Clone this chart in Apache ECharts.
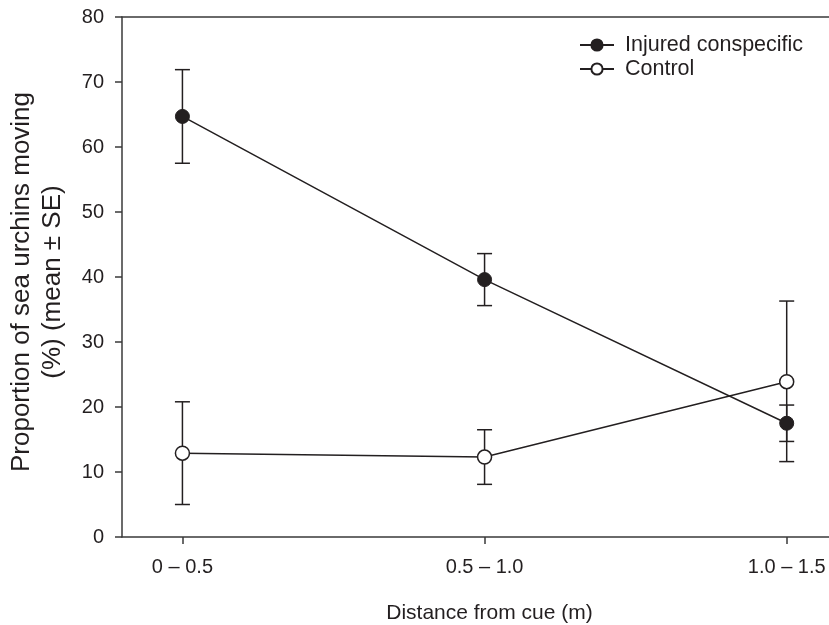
<!DOCTYPE html>
<html>
<head>
<meta charset="utf-8">
<script src="https://cdn.jsdelivr.net/npm/echarts@6/dist/echarts.min.js"></script>
<style>html,body{margin:0;padding:0;background:#fff}#c{width:829px;height:625px}</style>
</head>
<body>
<div id="c"></div>
<script>
var categories = ['0 – 0.5', '0.5 – 1.0', '1.0 – 1.5'];
var injuredMean = [64.7, 39.6, 17.5];
var injuredSE = [7.2, 4.0, 2.8];
var controlMean = [12.9, 12.3, 23.9];
var controlLow = [5.0, 8.1, 11.6];
var controlHigh = [20.8, 16.5, 36.3];
var yTicks = [0, 10, 20, 30, 40, 50, 60, 70, 80];
var seriesNames = ['Injured conspecific', 'Control'];

var ink = '#231f20';
var axisInk = '#3a3a3a';
var font = 'Liberation Sans, Arial, Helvetica, sans-serif';

var injuredData = injuredMean.map(function (v, i) { return [i, v]; });
var controlData = controlMean.map(function (v, i) { return [i, v]; });
var injuredErr = injuredMean.map(function (v, i) { return [i, v - injuredSE[i], v + injuredSE[i]]; });
var controlErr = controlMean.map(function (v, i) { return [i, controlLow[i], controlHigh[i]]; });

function errRender(params, api) {
  var x = api.value(0);
  var lo = api.coord([x, api.value(1)]);
  var hi = api.coord([x, api.value(2)]);
  var hw = 7.5;
  var st = { stroke: ink, lineWidth: 1.5 };
  return {
    type: 'group',
    children: [
      { type: 'line', shape: { x1: lo[0], y1: lo[1], x2: hi[0], y2: hi[1] }, style: st },
      { type: 'line', shape: { x1: lo[0] - hw, y1: lo[1], x2: lo[0] + hw, y2: lo[1] }, style: st },
      { type: 'line', shape: { x1: hi[0] - hw, y1: hi[1], x2: hi[0] + hw, y2: hi[1] }, style: st }
    ]
  };
}

var chart = echarts.init(document.getElementById('c'), null, { renderer: 'canvas' });
chart.setOption({
  animation: false,
  backgroundColor: '#fff',
  textStyle: { fontFamily: font, color: ink },
  grid: { left: 122, right: 0, top: 17, bottom: 88, containLabel: false, outerBoundsMode: 'none' },
  legend: {
    data: seriesNames,
    orient: 'vertical',
    left: 574,
    top: 29,
    itemWidth: 34,
    itemHeight: 14,
    itemGap: 2,
    textStyle: { fontSize: 21.5, color: ink, fontFamily: font, lineHeight: 21, padding: [0, 0, 0, 6] }
  },
  xAxis: [{
    type: 'value',
    min: -0.2,
    max: 2.14,
    position: 'bottom',
    splitLine: { show: false },
    axisLine: { show: true, onZero: false, lineStyle: { color: axisInk, width: 1.5 } },
    axisTick: { show: true, customValues: [0, 1, 2], length: 7, lineStyle: { color: axisInk, width: 1.5 } },
    axisLabel: {
      customValues: [0, 1, 2],
      formatter: function (v) { return categories[Math.round(v)]; },
      fontSize: 20, color: ink, margin: 20, fontFamily: font
    },
    name: 'Distance from cue (m)',
    nameLocation: 'middle',
    nameGap: 66,
    nameTextStyle: { fontSize: 21, color: ink, fontFamily: font, padding: [0, 0, 0, 28] }
  }, {
    type: 'value',
    min: -0.2,
    max: 2.14,
    position: 'top',
    splitLine: { show: false },
    axisLine: { show: true, onZero: false, lineStyle: { color: axisInk, width: 1.5 } },
    axisTick: { show: false },
    axisLabel: { show: false }
  }],
  yAxis: {
    type: 'value',
    min: yTicks[0],
    max: yTicks[yTicks.length - 1],
    interval: 10,
    splitLine: { show: false },
    axisLine: { show: true, onZero: false, lineStyle: { color: axisInk, width: 1.5 } },
    axisTick: { show: true, length: 7, lineStyle: { color: axisInk, width: 1.5 } },
    axisLabel: { fontSize: 20, color: ink, margin: 18, fontFamily: font },
    name: 'Proportion of sea urchins moving\n(%) (mean ± SE)',
    nameLocation: 'middle',
    nameGap: 54,
    nameTextStyle: { fontSize: 26, color: ink, fontFamily: font, lineHeight: 31, align: 'center', padding: [0, 10, 0, 0] }
  },
  series: [
    {
      type: 'custom', name: 'errInjured', renderItem: errRender, data: injuredErr, z: 1,
      encode: { x: 0, y: [1, 2] }
    },
    {
      type: 'custom', name: 'errControl', renderItem: errRender, data: controlErr, z: 1,
      encode: { x: 0, y: [1, 2] }
    },
    {
      type: 'line', name: seriesNames[0], data: injuredData, z: 3,
      symbol: 'circle', symbolSize: 14,
      lineStyle: { color: ink, width: 1.5 },
      itemStyle: { color: ink, borderColor: ink, borderWidth: 1 }
    },
    {
      type: 'line', name: seriesNames[1], data: controlData, z: 3,
      symbol: 'circle', symbolSize: 14,
      lineStyle: { color: ink, width: 1.5 },
      itemStyle: { color: '#fff', borderColor: ink, borderWidth: 1.5 }
    }
  ]
});
</script>
</body>
</html>
